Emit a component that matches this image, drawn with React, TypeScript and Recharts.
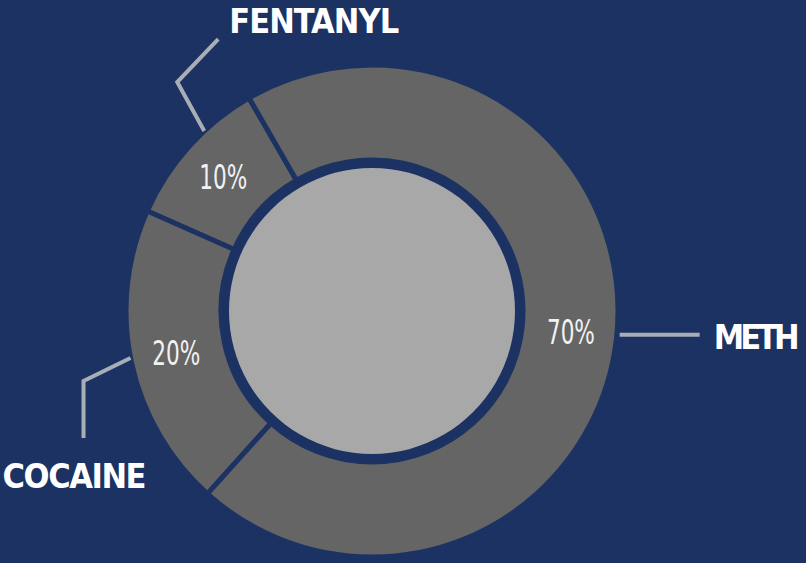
import * as React from "react"
import { PieChart, Pie, Cell } from "recharts"

// values
const categories = ["FENTANYL", "COCAINE", "METH"]
const shares = [10, 20, 70]
const percentLabels = ["10%", "20%", "70%"]

const BG = "#1b3263"
const RING = "#656565"
const CORE = "#a8a8a8"
const LEADER = "#a9adb6"

const CX = 372
const CY = 311
const R_OUT = 246
const R_IN = 151
const R_CORE = 143
const RAD = Math.PI / 180

const data = categories.map((name, i) => ({ name, value: shares[i], pct: percentLabels[i] }))
const coreData = [{ name: "core", value: 1 }]

function polar(angle: number, r: number) {
  return { x: CX + r * Math.cos(-angle * RAD), y: CY + r * Math.sin(-angle * RAD) }
}

const nameStyle = {
  fontFamily: "'DejaVu Sans Condensed', 'DejaVu Sans', sans-serif",
  fontWeight: 700,
  fontSize: 34,
  fill: "#ffffff",
}

const pctStyle = {
  fontFamily: "'DejaVu Sans Condensed', 'DejaVu Sans', sans-serif",
  fontWeight: 400,
  fontSize: 33,
  fill: "#f2f2f2",
}

function renderLabel(props: any) {
  const { midAngle, index } = props
  const t = polar(midAngle, 200)
  const pctText = (
    <text x={t.x} y={t.y + 12} textAnchor="middle" textLength={48} lengthAdjust="spacingAndGlyphs" style={pctStyle}>
      {percentLabels[index]}
    </text>
  )

  if (index === 0) {
    const p = polar(midAngle - 5, R_OUT)
    const pts = `${p.x},${p.y} ${p.x - 27},${p.y - 49} ${p.x + 14},${p.y - 92}`
    return (
      <g key={`l${index}`}>
        {pctText}
        <polyline points={pts} fill="none" stroke={LEADER} strokeWidth={4} />
        <text x={p.x + 25} y={p.y - 98} textLength={170} style={nameStyle}>
          {categories[index]}
        </text>
      </g>
    )
  }
  if (index === 1) {
    const p = polar(midAngle - 1, R_OUT)
    const pts = `${p.x},${p.y} ${p.x - 47},${p.y + 23} ${p.x - 47},${p.y + 80}`
    return (
      <g key={`l${index}`}>
        {pctText}
        <polyline points={pts} fill="none" stroke={LEADER} strokeWidth={4} />
        <text x={p.x - 128} y={p.y + 130} textLength={144} style={nameStyle}>
          {categories[index]}
        </text>
      </g>
    )
  }
  const p = polar(midAngle, R_OUT)
  return (
    <g key={`l${index}`}>
      {pctText}
      <line x1={p.x + 3} y1={p.y - 2} x2={p.x + 83} y2={p.y - 2} stroke={LEADER} strokeWidth={4} />
      <text x={p.x + 97} y={p.y + 12} textLength={86} style={nameStyle}>
        {categories[index]}
      </text>
    </g>
  )
}

export default function App() {
  return (
    <div style={{ position: "absolute", left: 0, top: 0, width: 806, height: 563, background: BG, overflow: "hidden" }}>
      <PieChart width={806} height={563} margin={{ top: 0, right: 0, bottom: 0, left: 0 }}>
        <Pie
          data={coreData}
          dataKey="value"
          cx={CX}
          cy={CY}
          innerRadius={0}
          outerRadius={R_CORE}
          fill={CORE}
          stroke="none"
          isAnimationActive={false}
        />
        <Pie
          data={data}
          dataKey="value"
          nameKey="name"
          cx={CX}
          cy={CY}
          innerRadius={R_IN}
          outerRadius={R_OUT}
          startAngle={120}
          endAngle={480}
          stroke={BG}
          strokeWidth={5}
          label={renderLabel}
          labelLine={false}
          isAnimationActive={false}
        >
          {data.map((d) => (
            <Cell key={d.name} fill={RING} />
          ))}
        </Pie>
      </PieChart>
    </div>
  )
}
